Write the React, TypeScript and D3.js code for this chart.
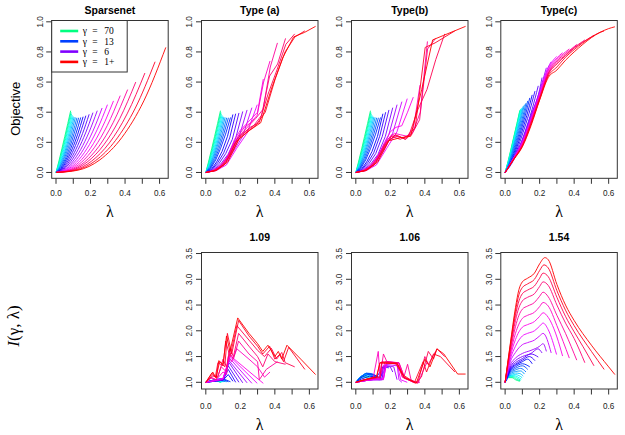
import React from 'react';
import * as d3 from 'd3';

// ---------- data ----------
// right end of the lambda path for each gamma (index 0 = gamma 70 ... 23 = gamma 1+)
const lambdaMax = [0.085, 0.087, 0.09, 0.094, 0.099, 0.105, 0.112, 0.121, 0.131, 0.143, 0.157, 0.173,
  0.192, 0.214, 0.239, 0.267, 0.298, 0.333, 0.372, 0.415, 0.462, 0.515, 0.574, 0.636];

// rows of plain numbers = values on an evenly spaced lambda grid from 0 to lambdaMax
// rows of pairs = [lambda, value]
const sparsenetRows = [
  [0, .076, .157, .240, .324, .41], [0, .067, .144, .226, .312, .40], [0, .059, .133, .214, .300, .39],
  [0, .052, .122, .202, .288, .38], [0, .046, .113, .192, .279, .373], [0, .041, .105, .183, .272, .368],
  [0, .037, .099, .176, .265, .365], [0, .033, .093, .170, .260, .363], [0, .030, .087, .164, .257, .363],
  [0, .027, .083, .160, .254, .365], [0, .025, .080, .157, .254, .37], [0, .023, .076, .155, .256, .377],
  [0, .021, .074, .153, .258, .386], [0, .020, .072, .153, .262, .397], [0, .018, .070, .153, .267, .41],
  [0, .017, .069, .155, .274, .428], [0, .016, .068, .157, .284, .45], [0, .016, .068, .161, .296, .475],
  [0, .015, .069, .167, .313, .51], [0, .015, .070, .174, .333, .55], [0, .015, .073, .184, .358, .60],
  [0, .015, .075, .196, .389, .66], [0, .015, .079, .212, .427, .735], [0, .015, .084, .232, .475, .83],
];

const typeAMid = [
  [0, .02, .07, .14, .24, .385], [0, .018, .065, .13, .23, .39], [0, .016, .06, .125, .22, .395],
  [0, .015, .055, .12, .22, .405], [0, .014, .05, .13, .23, .415], [0, .013, .05, .14, .24, .43],
  [0, .012, .05, .16, .26, .45],
];
const typeAJagged = [
  [0, .01, .03, .06, .12, .22, .28, .32, .36, .40, .62],
  [0, .01, .035, .08, .15, .24, .30, .33, .38, .60, .74],
  [0, .01, .04, .10, .20, .26, .31, .36, .42, .70, .86],
  [0, .01, .045, .11, .23, .27, .31, .38, .64, .72, .89],
  [0, .012, .05, .14, .25, .30, .33, .52, .68, .85, .92],
  [0, .012, .06, .20, .26, .31, .40, .62, .80, .90, .94],
  [0, .015, .07, .22, .28, .33, .56, .76, .90, .93, .97],
];

const typeBMid = [
  [0, .02, .07, .14, .24, .39], [0, .018, .065, .13, .24, .40], [0, .016, .06, .125, .24, .415],
  [0, .015, .055, .12, .24, .43], [0, .014, .05, .13, .25, .45], [0, .013, .05, .14, .26, .47],
  [0, .012, .05, .16, .27, .49],
];
const typeBJagged = [
  [0, .01, .03, .06, .12, .20, .27, .30, .31, .40, .50],
  [0, .01, .035, .08, .15, .22, .26, .25, .24, .30, .58],
  [0, .01, .04, .10, .19, .25, .24, .22, .27, .40, .87],
  [0, .01, .045, .11, .21, .24, .23, .25, .35, .82, .89],
  [0, .012, .05, .14, .24, .22, .25, .42, .55, .75, .92],
  [0, .012, .06, .19, .25, .22, .30, .83, .86, .90, .94],
  [0, .015, .07, .21, .23, .24, .55, .88, .91, .94, .97],
];

const typeCEarly = [
  [0, .074, .156, .240, .324, .41], [0, .071, .154, .240, .326, .415], [0, .069, .152, .240, .328, .42],
  [0, .067, .150, .240, .329, .425], [0, .065, .149, .240, .331, .43], [0, .063, .149, .242, .337, .44],
  [0, .062, .149, .244, .342, .45], [0, .060, .148, .247, .347, .46], [0, .059, .148, .249, .355, .475],
  [0, .059, .149, .254, .367, .495], [0, .059, .150, .259, .378, .515], [0, .059, .151, .265, .392, .54],
  [0, .060, .150, .270, .408, .575],
];
const typeCLate = [
  [[0, 0], [.05, .10], [.1, .215], [.15, .38], [.2, .55], [.214, .63]],
  [[0, 0], [.05, .098], [.1, .21], [.15, .37], [.2, .54], [.239, .695]],
  [[0, 0], [.05, .097], [.1, .205], [.15, .36], [.2, .53], [.25, .70], [.267, .735]],
  [[0, 0], [.05, .095], [.1, .2], [.15, .35], [.2, .52], [.25, .69], [.298, .77]],
  [[0, 0], [.05, .094], [.1, .195], [.15, .345], [.2, .51], [.25, .68], [.3, .76], [.333, .795]],
  [[0, 0], [.05, .092], [.1, .19], [.15, .34], [.2, .505], [.25, .67], [.3, .75], [.35, .80], [.372, .82]],
  [[0, 0], [.05, .091], [.1, .185], [.15, .335], [.2, .50], [.25, .66], [.3, .74], [.35, .79], [.4, .835], [.415, .85]],
  [[0, 0], [.05, .09], [.1, .18], [.15, .33], [.2, .495], [.25, .655], [.3, .73], [.35, .78], [.4, .83], [.45, .87], [.462, .88]],
  [[0, 0], [.05, .088], [.1, .178], [.15, .325], [.2, .49], [.25, .65], [.3, .72], [.35, .775], [.4, .825], [.45, .865], [.5, .90], [.515, .91]],
  [[0, 0], [.05, .087], [.1, .175], [.15, .32], [.2, .485], [.25, .64], [.3, .70], [.35, .765], [.4, .815], [.45, .86], [.5, .90], [.55, .93], [.574, .94]],
  [[0, 0], [.05, .085], [.1, .17], [.15, .31], [.2, .48], [.25, .63], [.3, .68], [.35, .745], [.4, .80], [.45, .85], [.5, .895], [.55, .93], [.6, .955], [.636, .967]],
];

const index109 = [
  [[0, 1], [.03, 1.02], [.06, 1.03], [.085, 1.0]],
  [[0, 1], [.03, 1.02], [.06, 1.035], [.087, 1.0]],
  [[0, 1], [.03, 1.025], [.06, 1.04], [.09, 1.0]],
  [[0, 1], [.03, 1.03], [.065, 1.045], [.094, 1.01]],
  [[0, 1], [.03, 1.03], [.07, 1.05], [.099, 1.01]],
  [[0, 1], [.035, 1.035], [.075, 1.055], [.105, 1.01]],
  [[0, 1], [.035, 1.035], [.08, 1.06], [.112, 1.01]],
  [[0, 1], [.04, 1.04], [.085, 1.065], [.121, 1.01]],
  [[0, 1], [.04, 1.04], [.09, 1.07], [.131, 1.01]],
  [[0, 1], [.045, 1.04], [.1, 1.07], [.143, 1.01]],
  [[0, 1], [.05, 1.02], [.1, 1.04], [.13, 1.15], [.157, 1.02]],
  [[0, 1], [.05, 1.02], [.1, 1.04], [.13, 1.25], [.173, 1.0]],
  [[0, 1], [.05, 1.02], [.1, 1.05], [.13, 1.32], [.192, 1.0]],
  [[0, 1], [.05, 1.03], [.1, 1.05], [.135, 1.38], [.214, 0.99]],
  [[0, 1], [.05, 1.03], [.1, 1.06], [.135, 1.42], [.239, 0.99]],
  [[0, 1], [.05, 1.03], [.1, 1.06], [.14, 1.46], [.267, 0.98]],
  [[0, 1], [.05, 1.03], [.1, 1.07], [.14, 1.5], [.298, 0.98]],
  [[0, 1], [.05, 1.04], [.1, 1.08], [.14, 1.52], [.333, 0.98]],
  [[0, 1], [.03, 1.08], [.06, 1.05], [.1, 1.2], [.12, 1.15], [.13, 1.5], [.15, 1.4], [.18, 1.65], [.25, 1.45], [.3, 1.3], [.34, 1.1], [.372, 1.2]],
  [[0, 1], [.03, 1.1], [.06, 1.05], [.09, 1.3], [.12, 1.2], [.135, 1.6], [.16, 1.45], [.19, 1.8], [.25, 1.55], [.3, 1.4], [.31, 1.05], [.35, 1.25], [.415, 1.4]],
  [[0, 1], [.04, 1.12], [.07, 1.1], [.1, 1.45], [.12, 1.3], [.14, 1.65], [.16, 1.5], [.19, 1.95], [.25, 1.7], [.3, 1.5], [.33, 1.3], [.36, 1.55], [.4, 1.4], [.462, 1.35]],
  [[0, 1], [.035, 1.18], [.055, 1.1], [.07, 1.38], [.1, 1.32], [.115, 1.8], [.14, 1.5], [.18, 2.1], [.25, 1.82], [.3, 1.62], [.34, 1.5], [.38, 1.66], [.41, 1.45], [.44, 1.58], [.46, 1.38], [.515, 1.3]],
  [[0, 1], [.04, 1.15], [.06, 1.1], [.08, 1.4], [.11, 1.3], [.125, 1.95], [.15, 1.55], [.19, 2.2], [.25, 1.9], [.3, 1.7], [.33, 1.55], [.37, 1.7], [.4, 1.45], [.43, 1.55], [.45, 1.4], [.48, 1.68], [.574, 1.25]],
  [[0, 1], [.04, 1.2], [.06, 1.08], [.075, 1.42], [.1, 1.35], [.12, 1.9], [.14, 1.6], [.185, 2.25], [.25, 1.95], [.3, 1.75], [.33, 1.6], [.36, 1.72], [.4, 1.5], [.42, 1.6], [.44, 1.45], [.47, 1.72], [.55, 1.45], [.636, 1.15]],
];

const index106 = [
  [[0, 1], [.02, 1.06], [.04, 1.1], [.06, 1.1], [.085, 1.05]],
  [[0, 1], [.02, 1.07], [.04, 1.11], [.065, 1.11], [.087, 1.06]],
  [[0, 1], [.02, 1.08], [.045, 1.13], [.07, 1.12], [.09, 1.07]],
  [[0, 1], [.02, 1.08], [.045, 1.14], [.07, 1.14], [.094, 1.08]],
  [[0, 1], [.02, 1.09], [.05, 1.15], [.075, 1.15], [.099, 1.09]],
  [[0, 1], [.025, 1.1], [.05, 1.16], [.08, 1.16], [.105, 1.1]],
  [[0, 1], [.025, 1.1], [.055, 1.17], [.085, 1.17], [.112, 1.1]],
  [[0, 1], [.025, 1.1], [.06, 1.18], [.09, 1.17], [.121, 1.1]],
  [[0, 1], [.03, 1.1], [.06, 1.17], [.1, 1.16], [.131, 1.09]],
  [[0, 1], [.03, 1.09], [.07, 1.15], [.11, 1.14], [.143, 1.08]],
  [[0, 1], [.03, 1.06], [.08, 1.12], [.12, 1.1], [.14, 1.2], [.157, 1.1]],
  [[0, 1], [.04, 1.04], [.09, 1.08], [.14, 1.06], [.155, 1.3], [.173, 1.25]],
  [[0, 1], [.05, 1.03], [.1, 1.06], [.14, 1.05], [.16, 1.3], [.192, 1.28]],
  [[0, 1], [.05, 1.03], [.1, 1.05], [.15, 1.05], [.16, 1.32], [.2, 1.3], [.214, 1.2]],
  [[0, 1], [.05, 1.03], [.1, 1.05], [.15, 1.05], [.17, 1.33], [.22, 1.3], [.239, 1.05]],
  [[0, 1], [.05, 1.03], [.1, 1.05], [.16, 1.05], [.17, 1.35], [.24, 1.32], [.25, 1.05], [.267, 1.0]],
  [[0, 1], [.05, 1.03], [.1, 1.05], [.16, 1.06], [.18, 1.38], [.24, 1.35], [.26, 1.05], [.298, 1.0]],
  [[0, 1], [.05, 1.03], [.1, 1.06], [.16, 1.07], [.18, 1.4], [.25, 1.37], [.27, 1.1], [.333, 1.0]],
  [[0, 1], [.05, 1.03], [.1, 1.07], [.13, 1.6], [.14, 1.1], [.17, 1.4], [.25, 1.38], [.28, 1.1], [.33, 1.02], [.372, 1.0]],
  [[0, 1], [.05, 1.04], [.1, 1.08], [.14, 1.08], [.16, 1.55], [.18, 1.4], [.25, 1.38], [.28, 1.12], [.3, 1.35], [.32, 1.05], [.36, 0.98], [.4, 1.3], [.415, 1.4]],
  [[0, 1], [.05, 1.04], [.1, 1.08], [.14, 1.1], [.15, 1.38], [.24, 1.36], [.27, 1.1], [.34, 0.99], [.36, 1.0], [.4, 1.5], [.42, 1.35], [.462, 1.6]],
  [[0, 1], [.05, 1.05], [.1, 1.1], [.14, 1.1], [.15, 1.4], [.24, 1.38], [.28, 1.08], [.35, 1.0], [.38, 1.1], [.42, 1.6], [.45, 1.45], [.47, 1.65], [.515, 1.5]],
  [[0, 1], [.05, 1.05], [.12, 1.1], [.14, 1.38], [.23, 1.37], [.27, 1.15], [.34, 1.0], [.39, 1.4], [.41, 1.2], [.45, 1.55], [.49, 1.5], [.574, 1.2]],
  [[0, 1], [.05, 1.05], [.12, 1.1], [.14, 1.38], [.24, 1.36], [.28, 1.1], [.35, 0.98], [.4, 1.45], [.43, 1.3], [.47, 1.65], [.51, 1.55], [.59, 1.16], [.636, 1.16]],
];

const index154 = [
  [[0, 1], [.02, 1.09], [.04, 1.09], [.06, 1.05], [.085, 1.02]],
  [[0, 1], [.02, 1.1], [.045, 1.1], [.065, 1.06], [.087, 1.03]],
  [[0, 1], [.025, 1.11], [.05, 1.11], [.07, 1.08], [.09, 1.04]],
  [[0, 1], [.025, 1.12], [.05, 1.13], [.075, 1.1], [.094, 1.06]],
  [[0, 1], [.03, 1.13], [.06, 1.15], [.08, 1.13], [.099, 1.09]],
  [[0, 1], [.03, 1.14], [.06, 1.18], [.085, 1.17], [.105, 1.12]],
  [[0, 1], [.03, 1.16], [.06, 1.21], [.09, 1.22], [.112, 1.16]],
  [[0, 1], [.03, 1.18], [.06, 1.24], [.09, 1.27], [.121, 1.2]],
  [[0, 1], [.03, 1.2], [.06, 1.27], [.1, 1.32], [.131, 1.25]],
  [[0, 1], [.03, 1.22], [.06, 1.3], [.1, 1.36], [.143, 1.3]],
  [[0, 1], [.03, 1.24], [.06, 1.33], [.1, 1.4], [.13, 1.45], [.157, 1.36]],
  [[0, 1], [.03, 1.26], [.06, 1.35], [.1, 1.43], [.14, 1.5], [.173, 1.42]],
  [[0, 1], [.03, 1.28], [.06, 1.38], [.1, 1.46], [.15, 1.55], [.192, 1.49]],
  [[0, 1], [.03, 1.3], [.06, 1.42], [.1, 1.5], [.15, 1.56], [.19, 1.65], [.214, 1.57]],
  [[0, 1], [.03, 1.34], [.06, 1.47], [.1, 1.56], [.15, 1.62], [.2, 1.7], [.22, 1.75], [.239, 1.6]],
  [[0, 1], [.03, 1.4], [.06, 1.58], [.08, 1.67], [.1, 1.73], [.13, 1.77], [.17, 1.82], [.2, 1.9], [.22, 1.95], [.267, 1.57]],
  [[0, 1], [.03, 1.45], [.06, 1.7], [.08, 1.82], [.1, 1.9], [.13, 1.95], [.17, 2.0], [.2, 2.09], [.22, 2.15], [.25, 2.02], [.298, 1.54]],
  [[0, 1], [.03, 1.5], [.06, 1.83], [.08, 1.98], [.1, 2.07], [.13, 2.12], [.17, 2.18], [.2, 2.28], [.22, 2.35], [.25, 2.26], [.3, 1.88], [.333, 1.51]],
  [[0, 1], [.03, 1.55], [.06, 1.95], [.08, 2.13], [.1, 2.24], [.13, 2.3], [.17, 2.36], [.2, 2.47], [.22, 2.55], [.25, 2.48], [.3, 2.1], [.372, 1.47]],
  [[0, 1], [.03, 1.6], [.06, 2.08], [.08, 2.3], [.1, 2.42], [.13, 2.48], [.17, 2.55], [.2, 2.67], [.22, 2.75], [.25, 2.66], [.3, 2.3], [.35, 1.95], [.415, 1.43]],
  [[0, 1], [.03, 1.64], [.06, 2.2], [.08, 2.45], [.1, 2.58], [.13, 2.65], [.17, 2.72], [.2, 2.86], [.22, 2.95], [.25, 2.88], [.3, 2.5], [.35, 2.15], [.4, 1.85], [.462, 1.38]],
  [[0, 1], [.03, 1.68], [.06, 2.3], [.08, 2.58], [.1, 2.72], [.13, 2.79], [.17, 2.87], [.2, 3.02], [.22, 3.12], [.25, 3.05], [.3, 2.65], [.35, 2.28], [.4, 1.98], [.45, 1.7], [.515, 1.32]],
  [[0, 1], [.03, 1.72], [.06, 2.38], [.08, 2.7], [.1, 2.84], [.13, 2.91], [.17, 3.0], [.2, 3.17], [.225, 3.28], [.25, 3.22], [.3, 2.78], [.35, 2.4], [.4, 2.1], [.5, 1.6], [.574, 1.25]],
  [[0, 1], [.03, 1.75], [.06, 2.45], [.08, 2.8], [.1, 2.95], [.13, 3.02], [.17, 3.12], [.2, 3.3], [.23, 3.42], [.25, 3.38], [.3, 2.9], [.35, 2.5], [.4, 2.2], [.5, 1.72], [.6, 1.3], [.636, 1.15]],
];

const panelTitles = ['Sparsenet', 'Type (a)', 'Type(b)', 'Type(c)', '1.09', '1.06', '1.54'];
const objectiveTicks = [0, 0.2, 0.4, 0.6, 0.8, 1.0];
const indexTicks = [1.0, 1.5, 2.0, 2.5, 3.0, 3.5];
const lambdaTicks = [0, 0.1, 0.2, 0.3, 0.4, 0.5, 0.6];
const lambdaTickLabels = [0, 0.2, 0.4, 0.6];
const legendValues = ['70', '13', '6', '1+'];
const legendColors = ['#00ff80', '#0040ff', '#8000ff', '#ff0000'];

// ---------- layout ----------
const PANEL_LEFT = [51.7, 201.5, 351.5, 500.8];
const PANEL_W = 116.5;
const X_DOMAIN = [-0.025, 0.65];
const TOP_ROW = { top: 20.5, bottom: 178.3, domain: [-0.0388, 1.0088], titleY: 14.3, tickLabelY: 196, lambdaY: 217 };
const BOT_ROW = { top: 252.5, bottom: 389, domain: [0.87, 3.52], titleY: 241, tickLabelY: 408.5, lambdaY: 430 };

const SANS = 'Liberation Sans, Arial, Helvetica, sans-serif';
const SERIF = 'Liberation Serif, Times New Roman, serif';

function curveColor(k: number, n: number) {
  return d3.hsl(150 + (210 * k) / (n - 1), 1, 0.5).formatHex();
}

function toPoints(row: any[], k: number): [number, number][] {
  if (typeof row[0] === 'number') {
    const n = row.length - 1;
    return row.map((v: number, i: number) => [(lambdaMax[k] * i) / n, v] as [number, number]);
  }
  return row as [number, number][];
}

function fmt(v: number) {
  return v.toFixed(1);
}

function Panel(props: { col: number; row: any; title: string; curves: any[]; yTicks: number[]; smooth: boolean; legend?: boolean }) {
  const { col, row, title, curves, yTicks, smooth, legend } = props;
  const left = PANEL_LEFT[col];
  const x = d3.scaleLinear().domain(X_DOMAIN).range([left, left + PANEL_W]);
  const y = d3.scaleLinear().domain(row.domain).range([row.bottom, row.top]);
  const line = d3
    .line<[number, number]>()
    .x((d) => x(d[0]))
    .y((d) => y(d[1]))
    .curve(smooth ? d3.curveMonotoneX : d3.curveLinear);
  const n = curves.length;
  const cx = left + PANEL_W / 2;
  return (
    <g>
      <text x={cx} y={row.titleY} textAnchor="middle" fontFamily={SANS} fontWeight="bold" fontSize={10.5} fill="#000">
        {title}
      </text>
      {curves.map((c, k) => (
        <path key={k} d={line(toPoints(c, k)) || ''} fill="none" stroke={curveColor(k, n)} strokeWidth={0.9} />
      ))}
      <rect x={left} y={row.top} width={PANEL_W} height={row.bottom - row.top} fill="none" stroke="#333" strokeWidth={1} />
      {lambdaTicks.map((t) => (
        <line key={'xt' + t} x1={x(t)} x2={x(t)} y1={row.bottom} y2={row.bottom + 5.5} stroke="#333" strokeWidth={1} />
      ))}
      {lambdaTickLabels.map((t) => (
        <text key={'xl' + t} x={x(t)} y={row.tickLabelY} textAnchor="middle" fontFamily={SANS} fontSize={8.2} fill="#222">
          {fmt(t)}
        </text>
      ))}
      {yTicks.map((t) => (
        <line key={'yt' + t} x1={left} x2={left - 5.5} y1={y(t)} y2={y(t)} stroke="#333" strokeWidth={1} />
      ))}
      {yTicks.map((t) => (
        <text
          key={'yl' + t}
          transform={`translate(${left - 12},${y(t)}) rotate(-90)`}
          textAnchor="middle"
          dy="0.35em"
          fontFamily={SANS}
          fontSize={8.2}
          fill="#222"
        >
          {fmt(t)}
        </text>
      ))}
      <text x={cx} y={row.lambdaY} textAnchor="middle" fontFamily={SERIF} fontSize={16} fill="#000">
        λ
      </text>
      {legend && (
        <g>
          <rect x={left} y={row.top} width={75.5} height={51.5} fill="#fff" stroke="#333" strokeWidth={1} />
          {legendValues.map((val, i) => {
            const ly = row.top + 10.5 + i * 10.3;
            return (
              <g key={val}>
                <line x1={left + 8.5} x2={left + 26.5} y1={ly} y2={ly} stroke={legendColors[i]} strokeWidth={2.6} />
                <text y={ly + 3.3} fontFamily={SERIF} fontSize={9.5} fill="#000">
                  <tspan x={left + 31}>γ</tspan>
                  <tspan x={left + 40.5}>=</tspan>
                  <tspan x={left + 52.5}>{val}</tspan>
                </text>
              </g>
            );
          })}
        </g>
      )}
    </g>
  );
}

export default function App() {
  const typeACurves = [...sparsenetRows.slice(0, 10), ...typeAMid, ...typeAJagged];
  const typeBCurves = [...sparsenetRows.slice(0, 10), ...typeBMid, ...typeBJagged];
  const typeCCurves = [...typeCEarly, ...typeCLate];
  return (
    <svg width={625} height={435} style={{ position: 'absolute', left: 0, top: 0, background: '#fff' }}>
      <rect x={0} y={0} width={625} height={435} fill="#fff" />
      <Panel col={0} row={TOP_ROW} title={panelTitles[0]} curves={sparsenetRows} yTicks={objectiveTicks} smooth legend />
      <Panel col={1} row={TOP_ROW} title={panelTitles[1]} curves={typeACurves} yTicks={objectiveTicks} smooth={false} />
      <Panel col={2} row={TOP_ROW} title={panelTitles[2]} curves={typeBCurves} yTicks={objectiveTicks} smooth={false} />
      <Panel col={3} row={TOP_ROW} title={panelTitles[3]} curves={typeCCurves} yTicks={objectiveTicks} smooth />
      <Panel col={1} row={BOT_ROW} title={panelTitles[4]} curves={index109} yTicks={indexTicks} smooth={false} />
      <Panel col={2} row={BOT_ROW} title={panelTitles[5]} curves={index106} yTicks={indexTicks} smooth={false} />
      <Panel col={3} row={BOT_ROW} title={panelTitles[6]} curves={index154} yTicks={indexTicks} smooth />
      <text transform="translate(15,108.75) rotate(-90)" textAnchor="middle" dy="0.35em" fontFamily={SANS} fontSize={13} fill="#000">
        Objective
      </text>
      <text transform="translate(13,326) rotate(-90)" textAnchor="middle" dy="0.35em" fontFamily={SERIF} fontSize={17} fill="#000">
        <tspan fontStyle="italic">I</tspan>
        <tspan>(γ, λ)</tspan>
      </text>
    </svg>
  );
}
